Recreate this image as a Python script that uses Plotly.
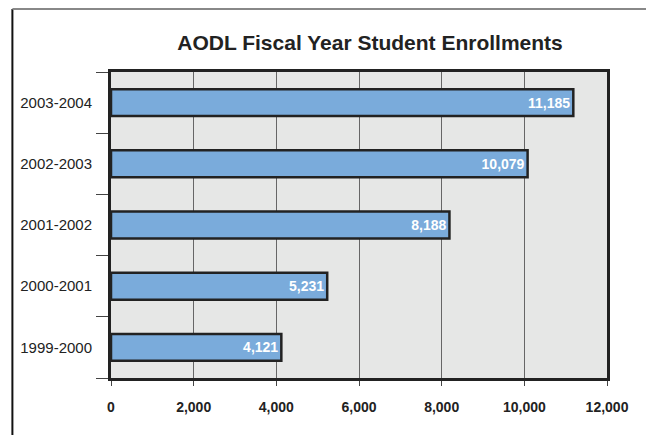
import plotly.graph_objects as go

years = ["1999-2000", "2000-2001", "2001-2002", "2002-2003", "2003-2004"]
enrollments = [4121, 5231, 8188, 10079, 11185]
x_ticks = [0, 2000, 4000, 6000, 8000, 10000, 12000]
x_tick_labels = ["0", "2,000", "4,000", "6,000", "8,000", "10,000", "12,000"]

W, H = 646, 427
L, R, T, B = 101, 47, 64, 57
pw, ph = W - L - R, H - T - B

fig = go.Figure(go.Bar(
    y=years, x=enrollments, orientation="h",
    marker=dict(color="#7aabdb", line=dict(color="#222222", width=2.5)),
    text=[f"{v:,}" for v in enrollments],
    textposition="inside", insidetextanchor="end",
    textfont=dict(color="white", size=14, family="Liberation Sans", weight="bold"),
    cliponaxis=False,
))

fig.update_layout(
    width=W, height=H,
    margin=dict(l=L, r=R, t=T, b=B),
    paper_bgcolor="white", plot_bgcolor="#e6e7e6",
    bargap=0.56,
    showlegend=False,
    title=dict(text="<b>AODL Fiscal Year Student Enrollments</b>",
               font=dict(size=21, family="Liberation Sans", color="#222"),
               x=362 / W, xanchor="center", y=1 - 35 / H, yanchor="middle"),
    font=dict(family="Liberation Sans", color="#222"),
)
fig.update_xaxes(
    range=[0, 12000], tickvals=x_ticks, ticktext=x_tick_labels,
    showgrid=True, gridcolor="#666666", gridwidth=1,
    showline=True, linecolor="#222222", linewidth=3, mirror=True,
    ticks="outside", ticklen=5, tickcolor="#444", ticklabelstandoff=9,
    tickfont=dict(size=14, family="Liberation Sans", weight="bold", color="#222"),
    zeroline=False,
)
fig.update_yaxes(
    type="category", categoryorder="array", categoryarray=years,
    showline=True, linecolor="#222222", linewidth=3, mirror=True,
    ticks="outside", tickson="boundaries", ticklen=12, tickcolor="#444",
    ticklabelstandoff=13,
    tickfont=dict(size=15, family="Liberation Sans", color="#222"),
    showgrid=False,
)

# outer frame lines
xl = (2 - L) / pw
yt = (H - B - 1) / ph
fig.add_shape(type="line", xref="paper", yref="paper", x0=xl, x1=xl, y0=-0.3, y1=yt,
              line=dict(color="#111", width=2))
fig.add_shape(type="line", xref="paper", yref="paper", x0=xl, x1=1.2, y0=yt, y1=yt,
              line=dict(color="#888", width=2))

fig.write_html("out.html")
